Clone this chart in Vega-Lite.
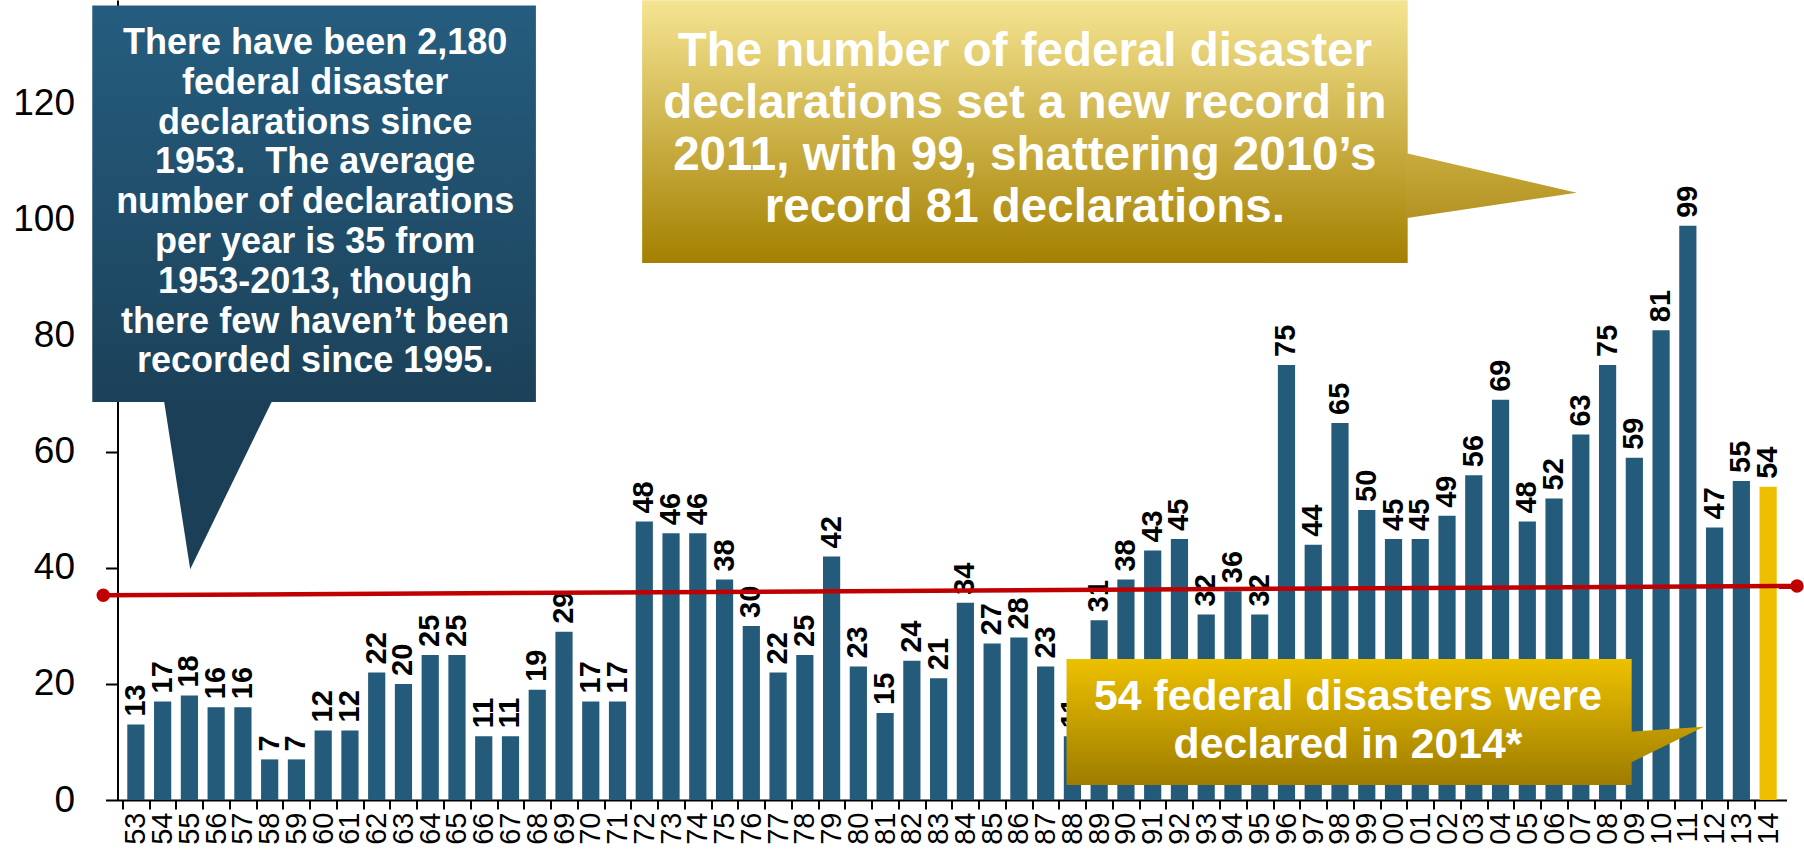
{
  "$schema": "https://vega.github.io/schema/vega-lite/v6.json",
  "width": 1669,
  "height": 800,
  "autosize": {"type": "none"},
  "padding": {"left": 117.5, "top": 0, "right": 17.5, "bottom": 49},
  "background": "white",
  "config": {
    "view": {"stroke": null},
    "font": "Liberation Sans",
    "axis": {"grid": false, "domainColor": "black", "tickColor": "black", "domainWidth": 2, "tickWidth": 2, "labelColor": "black", "labelFont": "Liberation Sans"}
  },
  "datasets": {
    "bars": [
      {"year": 1953, "v": 13, "kind": "past"}, {"year": 1954, "v": 17, "kind": "past"}, {"year": 1955, "v": 18, "kind": "past"},
      {"year": 1956, "v": 16, "kind": "past"}, {"year": 1957, "v": 16, "kind": "past"}, {"year": 1958, "v": 7, "kind": "past"},
      {"year": 1959, "v": 7, "kind": "past"}, {"year": 1960, "v": 12, "kind": "past"}, {"year": 1961, "v": 12, "kind": "past"},
      {"year": 1962, "v": 22, "kind": "past"}, {"year": 1963, "v": 20, "kind": "past"}, {"year": 1964, "v": 25, "kind": "past"},
      {"year": 1965, "v": 25, "kind": "past"}, {"year": 1966, "v": 11, "kind": "past"}, {"year": 1967, "v": 11, "kind": "past"},
      {"year": 1968, "v": 19, "kind": "past"}, {"year": 1969, "v": 29, "kind": "past"}, {"year": 1970, "v": 17, "kind": "past"},
      {"year": 1971, "v": 17, "kind": "past"}, {"year": 1972, "v": 48, "kind": "past"}, {"year": 1973, "v": 46, "kind": "past"},
      {"year": 1974, "v": 46, "kind": "past"}, {"year": 1975, "v": 38, "kind": "past"}, {"year": 1976, "v": 30, "kind": "past"},
      {"year": 1977, "v": 22, "kind": "past"}, {"year": 1978, "v": 25, "kind": "past"}, {"year": 1979, "v": 42, "kind": "past"},
      {"year": 1980, "v": 23, "kind": "past"}, {"year": 1981, "v": 15, "kind": "past"}, {"year": 1982, "v": 24, "kind": "past"},
      {"year": 1983, "v": 21, "kind": "past"}, {"year": 1984, "v": 34, "kind": "past"}, {"year": 1985, "v": 27, "kind": "past"},
      {"year": 1986, "v": 28, "kind": "past"}, {"year": 1987, "v": 23, "kind": "past"}, {"year": 1988, "v": 11, "kind": "past"},
      {"year": 1989, "v": 31, "kind": "past"}, {"year": 1990, "v": 38, "kind": "past"}, {"year": 1991, "v": 43, "kind": "past"},
      {"year": 1992, "v": 45, "kind": "past"}, {"year": 1993, "v": 32, "kind": "past"}, {"year": 1994, "v": 36, "kind": "past"},
      {"year": 1995, "v": 32, "kind": "past"}, {"year": 1996, "v": 75, "kind": "past"}, {"year": 1997, "v": 44, "kind": "past"},
      {"year": 1998, "v": 65, "kind": "past"}, {"year": 1999, "v": 50, "kind": "past"}, {"year": 2000, "v": 45, "kind": "past"},
      {"year": 2001, "v": 45, "kind": "past"}, {"year": 2002, "v": 49, "kind": "past"}, {"year": 2003, "v": 56, "kind": "past"},
      {"year": 2004, "v": 69, "kind": "past"}, {"year": 2005, "v": 48, "kind": "past"}, {"year": 2006, "v": 52, "kind": "past"},
      {"year": 2007, "v": 63, "kind": "past"}, {"year": 2008, "v": 75, "kind": "past"}, {"year": 2009, "v": 59, "kind": "past"},
      {"year": 2010, "v": 81, "kind": "past"}, {"year": 2011, "v": 99, "kind": "past"}, {"year": 2012, "v": 47, "kind": "past"},
      {"year": 2013, "v": 55, "kind": "past"}, {"year": 2014, "v": 54, "kind": "current"}
    ],
    "trend": [
      {"year": 1951.78, "v": 35.3},
      {"year": 2015.08, "v": 36.9}
    ],
    "boxes": [
      {"id": "left", "year": 1951.37, "year2": 1967.95, "v": 137, "v2": 68.6},
      {"id": "right", "year": 1971.92, "year2": 2000.53, "v": 137.9, "v2": 92.6},
      {"id": "bottom", "year": 1987.78, "year2": 2008.9, "v": 24.3, "v2": 2.6}
    ],
    "tails": [
      {"id": "left", "year": 1954.05, "v": 68.9, "v2": 68.9},
      {"id": "left", "year": 1955.03, "v": 68.9, "v2": 39.8},
      {"id": "left", "year": 1958.1, "v": 68.9, "v2": 68.9},
      {"id": "right", "year": 2000.45, "v": 111.55, "v2": 100.3},
      {"id": "right", "year": 2006.85, "v": 104.7, "v2": 104.7},
      {"id": "bottom", "year": 2008.82, "v": 11.78, "v2": 6.33},
      {"id": "bottom", "year": 2011.6, "v": 12.64, "v2": 12.64}
    ],
    "notes": [
      {"id": "left", "year": 1959.7, "v": 130.5, "t": "There have been 2,180\nfederal disaster\ndeclarations since\n1953.\u00a0 The average\nnumber of declarations\nper year is 35 from\n1953-2013, though\nthere few haven’t been\nrecorded since 1995."},
      {"id": "right", "year": 1986.22, "v": 129.0, "t": "The number of federal disaster\ndeclarations set a new record in\n2011, with 99, shattering 2010’s\nrecord 81 declarations."},
      {"id": "bottom", "year": 1998.3, "v": 17.76, "t": "54 federal disasters were\ndeclared in 2014*"}
    ]
  },
  "encoding": {
    "x": {"field": "year", "type": "quantitative", "scale": {"domain": [1952.5, 2014.5], "nice": false, "zero": false},
          "axis": {"title": null, "values": [1953,1954,1955,1956,1957,1958,1959,1960,1961,1962,1963,1964,1965,1966,1967,1968,1969,1970,1971,1972,1973,1974,1975,1976,1977,1978,1979,1980,1981,1982,1983,1984,1985,1986,1987,1988,1989,1990,1991,1992,1993,1994,1995,1996,1997,1998,1999,2000,2001,2002,2003,2004,2005,2006,2007,2008,2009,2010,2011,2012,2013,2014],
                   "format": "d", "labelExpr": "substring(datum.label, 2)",
                   "labelAngle": -90, "tickOffset": -13.46, "labelOffset": 13.46, "tickSize": 9, "labelPadding": 3, "labelFontSize": 29, "labelOverlap": false, "labelFlush": false, "labelBound": false}},
    "y": {"field": "v", "type": "quantitative", "scale": {"domain": [0, 137.93], "nice": false, "zero": true},
          "axis": {"title": null, "values": [0, 20, 40, 60, 80, 100, 120], "tickSize": 12, "labelPadding": 31, "labelFontSize": 37}}
  },
  "layer": [
    {
      "data": {"name": "bars"},
      "mark": {"type": "bar", "width": 17.2},
      "encoding": {
        "color": {"field": "kind", "type": "nominal", "scale": {"domain": ["past", "current"], "range": ["#245B7A", "#EDBF00"]}, "legend": null}
      }
    },
    {
      "data": {"name": "bars"},
      "mark": {"type": "text", "angle": 270, "align": "left", "baseline": "middle", "dx": 8, "fontSize": 29, "fontWeight": "bold", "color": "black", "font": "Liberation Sans"},
      "encoding": {
        "text": {"field": "v", "type": "quantitative"}
      }
    },
    {
      "data": {"name": "trend"},
      "mark": {"type": "line", "color": "#C00000", "strokeWidth": 4.5},
      "encoding": {}
    },
    {
      "data": {"name": "trend"},
      "mark": {"type": "point", "filled": true, "color": "#C00000", "size": 180, "opacity": 1},
      "encoding": {}
    },
    {
      "data": {"name": "boxes"},
      "transform": [{"filter": "datum.id === 'left'"}],
      "mark": {"type": "rect", "fill": {"gradient": "linear", "x1": 0, "y1": 0, "x2": 0, "y2": 1, "stops": [{"offset": 0, "color": "#255D7F"}, {"offset": 1, "color": "#1C4159"}]}},
      "encoding": {"x2": {"field": "year2"}, "y2": {"field": "v2"}}
    },
    {
      "data": {"name": "boxes"},
      "transform": [{"filter": "datum.id === 'right'"}],
      "mark": {"type": "rect", "fill": {"gradient": "linear", "x1": 0, "y1": 0, "x2": 0, "y2": 1, "stops": [{"offset": 0, "color": "#F5E492"}, {"offset": 1, "color": "#A48000"}]}},
      "encoding": {"x2": {"field": "year2"}, "y2": {"field": "v2"}}
    },
    {
      "data": {"name": "boxes"},
      "transform": [{"filter": "datum.id === 'bottom'"}],
      "mark": {"type": "rect", "fill": {"gradient": "linear", "x1": 0, "y1": 0, "x2": 0, "y2": 1, "stops": [{"offset": 0, "color": "#EDC100"}, {"offset": 1, "color": "#9E7C00"}]}},
      "encoding": {"x2": {"field": "year2"}, "y2": {"field": "v2"}}
    },
    {
      "data": {"name": "tails"},
      "transform": [{"filter": "datum.id === 'left'"}],
      "mark": {"type": "area", "interpolate": "linear", "orient": "vertical", "fill": "#1B3F57"},
      "encoding": {"y2": {"field": "v2"}}
    },
    {
      "data": {"name": "tails"},
      "transform": [{"filter": "datum.id === 'right'"}],
      "mark": {"type": "area", "interpolate": "linear", "orient": "vertical", "fill": {"gradient": "linear", "x1": 0, "y1": 0, "x2": 0, "y2": 1, "stops": [{"offset": 0, "color": "#C9AB3E"}, {"offset": 1, "color": "#B29322"}]}},
      "encoding": {"y2": {"field": "v2"}}
    },
    {
      "data": {"name": "tails"},
      "transform": [{"filter": "datum.id === 'bottom'"}],
      "mark": {"type": "area", "interpolate": "linear", "orient": "vertical", "fill": {"gradient": "linear", "x1": 0, "y1": 0, "x2": 0, "y2": 1, "stops": [{"offset": 0, "color": "#C29C00"}, {"offset": 1, "color": "#AB8800"}]}},
      "encoding": {"y2": {"field": "v2"}}
    },
    {
      "data": {"name": "notes"},
      "transform": [{"filter": "datum.id === 'left'"}],
      "mark": {"type": "text", "align": "center", "baseline": "middle", "lineBreak": "\n", "lineHeight": 39.8, "fontSize": 36, "fontWeight": "bold", "color": "white", "font": "Liberation Sans"},
      "encoding": {"text": {"field": "t"}}
    },
    {
      "data": {"name": "notes"},
      "transform": [{"filter": "datum.id === 'right'"}],
      "mark": {"type": "text", "align": "center", "baseline": "middle", "lineBreak": "\n", "lineHeight": 52, "fontSize": 47.5, "fontWeight": "bold", "color": "white", "font": "Liberation Sans"},
      "encoding": {"text": {"field": "t"}}
    },
    {
      "data": {"name": "notes"},
      "transform": [{"filter": "datum.id === 'bottom'"}],
      "mark": {"type": "text", "align": "center", "baseline": "middle", "lineBreak": "\n", "lineHeight": 48, "fontSize": 42.7, "fontWeight": "bold", "color": "white", "font": "Liberation Sans"},
      "encoding": {"text": {"field": "t"}}
    }
  ]
}
